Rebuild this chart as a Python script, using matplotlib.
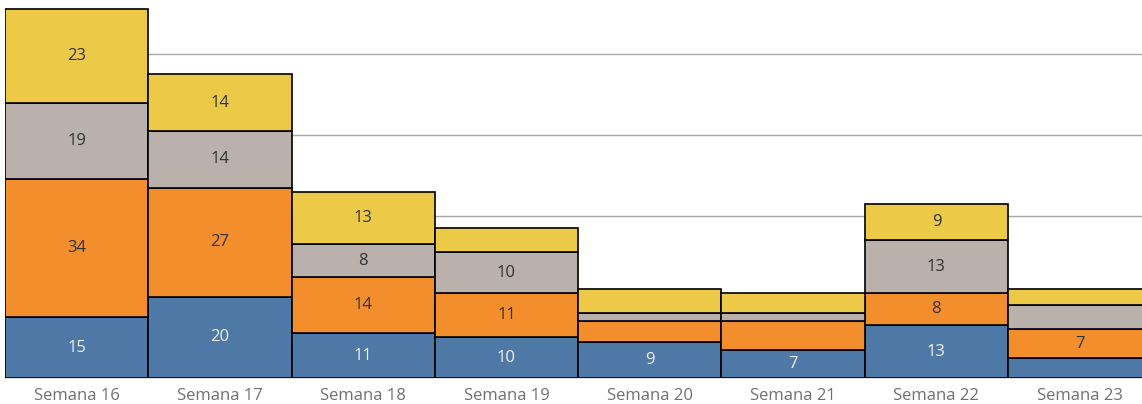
import numpy as np
import matplotlib.pyplot as plt

plt.rcParams['font.family'] = ['Open Sans', 'DejaVu Sans']

weeks = ["Semana 16", "Semana 17", "Semana 18", "Semana 19",
         "Semana 20", "Semana 21", "Semana 22", "Semana 23"]
blue = [15, 20, 11, 10, 9, 7, 13, 5]
orange = [34, 27, 14, 11, 5, 7, 8, 7]
gray = [19, 14, 8, 10, 2, 2, 13, 6]
yellow = [23, 14, 13, 6, 6, 5, 9, 4]

# which segment labels Tableau actually displayed
show_blue = [1, 1, 1, 1, 1, 1, 1, 0]
show_orange = [1, 1, 1, 1, 0, 0, 1, 1]
show_gray = [1, 1, 1, 1, 0, 0, 1, 0]
show_yellow = [1, 1, 1, 0, 0, 0, 1, 0]

series = [
    (blue, show_blue, "#4e79a7", "#f0f0f0"),
    (orange, show_orange, "#f28e2b", "#333333"),
    (gray, show_gray, "#bab0ac", "#333333"),
    (yellow, show_yellow, "#edc948", "#333333"),
]

fig = plt.figure(figsize=(11.42, 4.04), dpi=100)
ax = fig.add_axes([5 / 1142, 26 / 404, 1 - 5 / 1142, 378 / 404])

x = np.arange(len(weeks)) + 0.5
bottom = np.zeros(len(weeks))
for vals, shown, color, tcolor in series:
    vals = np.array(vals, dtype=float)
    ax.bar(x, vals, width=1.0, bottom=bottom, color=color,
           edgecolor="black", linewidth=1.2, zorder=3)
    for xi, b, v, s in zip(x, bottom, vals, shown):
        if s:
            ax.text(xi, b + v / 2, f"{int(v)}", ha="center", va="center",
                    fontsize=12, color=tcolor, zorder=4)
    bottom += vals

ax.set_xlim(0, 7.935)
ax.set_ylim(0, 93.3)
ax.set_yticks([20, 40, 60, 80])
ax.yaxis.grid(True, color="#a8a8a8", linewidth=1.0, zorder=0)
ax.tick_params(axis="y", left=False, labelleft=False)
ax.set_xticks(x)
ax.set_xticklabels(weeks, fontsize=12, color="#707070")
ax.tick_params(axis="x", length=0, pad=7)
for side in ["top", "right", "left"]:
    ax.spines[side].set_visible(False)
ax.spines["bottom"].set_color("#dddddd")

plt.savefig("out.png", dpi=100)
